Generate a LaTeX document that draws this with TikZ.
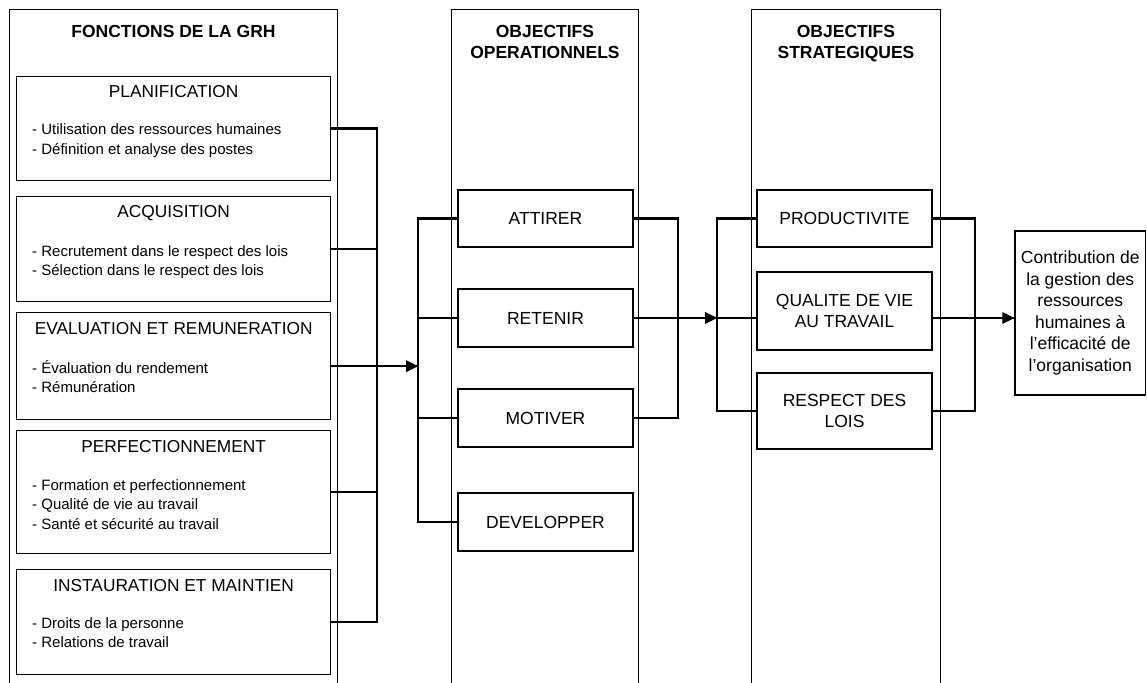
\documentclass[tikz,border=0pt]{standalone}
\usepackage{fontspec}
\setmainfont{Liberation Sans}

\begin{document}
\begin{tikzpicture}[x=1pt,y=1pt]
            \tikzstyle{every node}+=[inner sep=0pt]
            \tikzstyle{column}=[draw=black, line width=0.9pt, anchor=north west, minimum height=700]
            \tikzstyle{head}=[anchor=base, font=\fontsize{17.5}{21}\selectfont\bfseries]
            \tikzstyle{fbox}=[draw=black, line width=1.3pt, anchor=north west, minimum width=314]
            \tikzstyle{ftitle}=[anchor=base, font=\fontsize{17.3}{21}\selectfont]
            \tikzstyle{items}=[anchor=base west, font=\fontsize{15}{19.5}\selectfont]
            \tikzstyle{obox}=[draw=black, line width=1.3pt, minimum width=175, align=center, font=\fontsize{17.5}{21}\selectfont]
            \tikzstyle{link}=[black, line width=2.4pt]
            \useasboundingbox (0,0) rectangle (1147,-682);
            \clip (0,0) rectangle (1147,-682);
            % columns
            \node [column, minimum width=328] (grh) at (9,-9) {};
            \node [column, minimum width=187] (oper) at (451,-9) {};
            \node [column, minimum width=189] (strat) at (751,-9) {};
            \node [head] at ([yshift=-29]grh.north) {FONCTIONS DE LA GRH};
            \node [head] at ([yshift=-29]oper.north) {\begin{tabular}[t]{@{}c@{}}OBJECTIFS\\OPERATIONNELS\end{tabular}};
            \node [head] at ([yshift=-29]strat.north) {\begin{tabular}[t]{@{}c@{}}OBJECTIFS\\STRATEGIQUES\end{tabular}};
            % fonctions
            \node [fbox, minimum height=104] (plan) at (16,-76) {};
            \node [fbox, minimum height=105] (acq) at (16,-196) {};
            \node [fbox, minimum height=107] (eval) at (16,-312) {};
            \node [fbox, minimum height=123] (perf) at (16,-430) {};
            \node [fbox, minimum height=105] (inst) at (16,-569) {};
            \node [ftitle] at ([yshift=-21.5]plan.north) {PLANIFICATION};
            \node [ftitle] at ([yshift=-21.5]acq.north) {ACQUISITION};
            \node [ftitle] at ([yshift=-22]eval.north) {EVALUATION ET REMUNERATION};
            \node [ftitle] at ([yshift=-22]perf.north) {PERFECTIONNEMENT};
            \node [ftitle] at ([yshift=-22.5]inst.north) {INSTAURATION ET MAINTIEN};
            \node [items] at ([xshift=16,yshift=-59]plan.north west) {\begin{tabular}[t]{@{}l@{}}- Utilisation des ressources humaines\\- Définition et analyse des postes\end{tabular}};
            \node [items] at ([xshift=16,yshift=-60]acq.north west) {\begin{tabular}[t]{@{}l@{}}- Recrutement dans le respect des lois\\- Sélection dans le respect des lois\end{tabular}};
            \node [items] at ([xshift=16,yshift=-61]eval.north west) {\begin{tabular}[t]{@{}l@{}}- Évaluation du rendement\\- Rémunération\end{tabular}};
            \node [items] at ([xshift=16,yshift=-60]perf.north west) {\begin{tabular}[t]{@{}l@{}}- Formation et perfectionnement\\- Qualité de vie au travail\\- Santé et sécurité au travail\end{tabular}};
            \node [items] at ([xshift=16,yshift=-59]inst.north west) {\begin{tabular}[t]{@{}l@{}}- Droits de la personne\\- Relations de travail\end{tabular}};
            % objectifs operationnels
            \node [obox, minimum height=57] (attirer) at (545.5,-218.5) {ATTIRER};
            \node [obox, minimum height=58] (retenir) at (545.5,-318) {RETENIR};
            \node [obox, minimum height=58] (motiver) at (545.5,-418) {MOTIVER};
            \node [obox, minimum height=58] (devel) at (545.5,-522) {DEVELOPPER};
            % objectifs strategiques
            \node [obox, minimum height=57] (prod) at (844.5,-218.5) {PRODUCTIVITE};
            \node [obox, minimum height=78] (qual) at (844.5,-311) {QUALITE DE VIE\\AU TRAVAIL};
            \node [obox, minimum height=76] (resp) at (844.5,-411) {RESPECT DES\\LOIS};
            \node [obox, minimum width=130.5, minimum height=164, font=\fontsize{17.5}{21.6}\selectfont] (contrib) at (1080.25,-313) {Contribution de\\la gestion des\\ressources\\humaines à\\l'efficacité de\\l'organisation};
            % buses
            \coordinate (bus1) at (377,0);
            \coordinate (bus2) at (418,0);
            \coordinate (bus2r) at (678,0);
            \coordinate (bus3) at (717,0);
            \coordinate (bus4) at (975,0);
            \draw [link] (plan.east) -| (bus1 |- inst.east) -- (inst.east);
            \draw [link] (acq.east) -- (acq.east -| bus1);
            \draw [link] (perf.east) -- (perf.east -| bus1);
            \draw [link] (eval.east) -- (eval.east -| bus2);
            \fill [black] (eval.east -| bus2) -- ++(-12,6) -- ++(0,-12) -- cycle;
            \draw [link] (attirer.west) -| (bus2 |- devel.west) -- (devel.west);
            \draw [link] (retenir.west) -- (retenir.west -| bus2);
            \draw [link] (motiver.west) -- (motiver.west -| bus2);
            \draw [link] (attirer.east) -| (bus2r |- motiver.east) -- (motiver.east);
            \draw [link] (retenir.east) -- (retenir.east -| bus3);
            \fill [black] (retenir.east -| bus3) -- ++(-12,6) -- ++(0,-12) -- cycle;
            \draw [link] (prod.west) -| (bus3 |- resp.west) -- (resp.west);
            \draw [link] (bus3 |- retenir.east) -- (qual.west |- retenir.east);
            \draw [link] (prod.east) -| (bus4 |- resp.east) -- (resp.east);
            \draw [link] (qual.east |- retenir.east) -- (contrib.west |- retenir.east);
            \fill [black] (contrib.west |- retenir.east) -- ++(-12,6) -- ++(0,-12) -- cycle;
\end{tikzpicture}
\end{document}
